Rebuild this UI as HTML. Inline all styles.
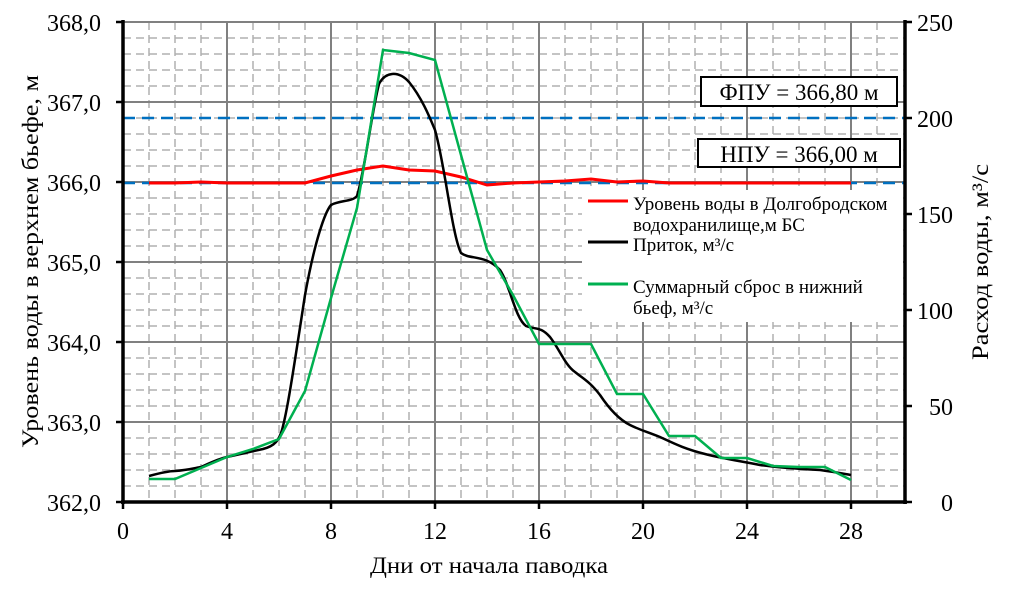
<!DOCTYPE html>
<html><head><meta charset="utf-8"><style>
body{margin:0;background:#fff}
svg text{font-family:"Liberation Serif",serif;fill:#000}
</style></head><body>
<svg width="1009" height="589" xmlns="http://www.w3.org/2000/svg">
<g stroke="#b0b0b0" stroke-width="1.5" stroke-dasharray="8,5">
<line x1="123" y1="38" x2="905" y2="38"/><line x1="123" y1="54" x2="905" y2="54"/><line x1="123" y1="70" x2="905" y2="70"/><line x1="123" y1="86" x2="905" y2="86"/>
<line x1="123" y1="118" x2="905" y2="118"/><line x1="123" y1="134" x2="905" y2="134"/><line x1="123" y1="150" x2="905" y2="150"/><line x1="123" y1="166" x2="905" y2="166"/>
<line x1="123" y1="198" x2="905" y2="198"/><line x1="123" y1="214" x2="905" y2="214"/><line x1="123" y1="230" x2="905" y2="230"/><line x1="123" y1="246" x2="905" y2="246"/>
<line x1="123" y1="278" x2="905" y2="278"/><line x1="123" y1="294" x2="905" y2="294"/><line x1="123" y1="310" x2="905" y2="310"/><line x1="123" y1="326" x2="905" y2="326"/>
<line x1="123" y1="358" x2="905" y2="358"/><line x1="123" y1="374" x2="905" y2="374"/><line x1="123" y1="390" x2="905" y2="390"/><line x1="123" y1="406" x2="905" y2="406"/>
<line x1="123" y1="438" x2="905" y2="438"/><line x1="123" y1="454" x2="905" y2="454"/><line x1="123" y1="470" x2="905" y2="470"/><line x1="123" y1="486" x2="905" y2="486"/>
<line x1="149" y1="22" x2="149" y2="502"/><line x1="175" y1="22" x2="175" y2="502"/><line x1="201" y1="22" x2="201" y2="502"/>
<line x1="253" y1="22" x2="253" y2="502"/><line x1="279" y1="22" x2="279" y2="502"/><line x1="305" y1="22" x2="305" y2="502"/>
<line x1="357" y1="22" x2="357" y2="502"/><line x1="383" y1="22" x2="383" y2="502"/><line x1="409" y1="22" x2="409" y2="502"/>
<line x1="461" y1="22" x2="461" y2="502"/><line x1="487" y1="22" x2="487" y2="502"/><line x1="513" y1="22" x2="513" y2="502"/>
<line x1="565" y1="22" x2="565" y2="502"/><line x1="591" y1="22" x2="591" y2="502"/><line x1="617" y1="22" x2="617" y2="502"/>
<line x1="669" y1="22" x2="669" y2="502"/><line x1="695" y1="22" x2="695" y2="502"/><line x1="721" y1="22" x2="721" y2="502"/>
<line x1="773" y1="22" x2="773" y2="502"/><line x1="799" y1="22" x2="799" y2="502"/><line x1="825" y1="22" x2="825" y2="502"/>
<line x1="877" y1="22" x2="877" y2="502"/>
</g>
<g stroke="#808080" stroke-width="2">
<line x1="123" y1="22" x2="905" y2="22"/><line x1="123" y1="102" x2="905" y2="102"/><line x1="123" y1="182" x2="905" y2="182"/><line x1="123" y1="262" x2="905" y2="262"/><line x1="123" y1="342" x2="905" y2="342"/><line x1="123" y1="422" x2="905" y2="422"/>
<line x1="227" y1="22" x2="227" y2="502"/><line x1="331" y1="22" x2="331" y2="502"/><line x1="435" y1="22" x2="435" y2="502"/><line x1="539" y1="22" x2="539" y2="502"/><line x1="643" y1="22" x2="643" y2="502"/><line x1="747" y1="22" x2="747" y2="502"/><line x1="851" y1="22" x2="851" y2="502"/>
</g>
<rect x="582" y="190" width="321" height="132" fill="#fff"/>
<g stroke="#0070c0" stroke-width="2.5" stroke-dasharray="12,7">
<line x1="123" y1="118" x2="905" y2="118"/><line x1="123" y1="183" x2="905" y2="183"/>
</g>
<polyline fill="none" stroke="#ff0000" stroke-width="3" points="149,183 175,183 201,182 227,183 253,183 279,183 305,183 331,176 357,170 383,166 409,170 435,171 461,177 487,185 513,183 539,182 565,181 591,179 617,182 643,181 669,183 695,183 721,183 747,183 773,183 799,183 825,183 851,183"/>
<path fill="none" stroke="#000" stroke-width="2.5" d="M149,476 C160,473 170,471 175,471 C188,470 195,468 201,467 C210,463 218,459 227,457 C240,454 250,452 263,449 C275,446 279,440 282,430 C287,412 292,380 305,295 C315,240 325,212 331,205 C340,200 352,202 357,196 C365,170 372,110 379,84 C385,72 398,70 409,82 C422,98 430,118 435,130 C445,165 452,235 461,253 C470,260 485,254 500,270 C510,285 515,318 526,326 C536,330 540,326 550,337 C560,350 565,365 575,372 C585,380 590,382 600,395 C610,410 620,420 630,425 C640,430 645,431 660,437 C675,444 685,449 705,454 C725,459 740,461 760,465 C780,468 800,469 820,470 C835,472 845,474 851,475"/>
<polyline fill="none" stroke="#00b050" stroke-width="2.5" points="149,479 175,479 201,468 227,457 253,449 279,439 305,391 331,298 357,208 383,50 409,53 435,60 461,155 487,250 513,295 539,344 565,344 591,344 617,394 643,394 669,436 695,436 721,458 747,458 773,466 799,467 825,467 851,480"/>
<g stroke="#000" stroke-width="3.5">
<line x1="123" y1="20" x2="123" y2="504"/><line x1="905" y1="20" x2="905" y2="504"/><line x1="121" y1="502" x2="907" y2="502"/>
</g>
<g stroke="#000" stroke-width="2.5">
<line x1="116" y1="22" x2="123" y2="22"/><line x1="116" y1="102" x2="123" y2="102"/><line x1="116" y1="182" x2="123" y2="182"/><line x1="116" y1="262" x2="123" y2="262"/><line x1="116" y1="342" x2="123" y2="342"/><line x1="116" y1="422" x2="123" y2="422"/><line x1="116" y1="502" x2="123" y2="502"/>
<line x1="905" y1="22" x2="912" y2="22"/><line x1="905" y1="118" x2="912" y2="118"/><line x1="905" y1="214" x2="912" y2="214"/><line x1="905" y1="310" x2="912" y2="310"/><line x1="905" y1="406" x2="912" y2="406"/><line x1="905" y1="502" x2="912" y2="502"/>
<line x1="123" y1="502" x2="123" y2="509"/><line x1="227" y1="502" x2="227" y2="509"/><line x1="331" y1="502" x2="331" y2="509"/><line x1="435" y1="502" x2="435" y2="509"/><line x1="539" y1="502" x2="539" y2="509"/><line x1="643" y1="502" x2="643" y2="509"/><line x1="747" y1="502" x2="747" y2="509"/><line x1="851" y1="502" x2="851" y2="509"/>
</g>
<g font-size="24" text-anchor="end">
<text x="101" y="31">368,0</text><text x="101" y="111">367,0</text><text x="101" y="191">366,0</text><text x="101" y="271">365,0</text><text x="101" y="351">364,0</text><text x="101" y="431">363,0</text><text x="101" y="511">362,0</text>
</g>
<g font-size="24" text-anchor="start">
<text x="917" y="31">250</text><text x="917" y="127">200</text><text x="917" y="223">150</text><text x="917" y="319">100</text><text x="929" y="415">50</text><text x="941" y="511">0</text>
</g>
<g font-size="24" text-anchor="middle">
<text x="123" y="539">0</text><text x="227" y="539">4</text><text x="331" y="539">8</text><text x="435" y="539">12</text><text x="539" y="539">16</text><text x="643" y="539">20</text><text x="747" y="539">24</text><text x="851" y="539">28</text>
</g>
<text x="370" y="573" font-size="23" textLength="238" lengthAdjust="spacingAndGlyphs">Дни от начала паводка</text>
<text transform="translate(38,448) rotate(-90)" font-size="23" textLength="373" lengthAdjust="spacingAndGlyphs">Уровень воды в верхнем бьефе, м</text>
<text transform="translate(988,360) rotate(-90)" font-size="23" textLength="196" lengthAdjust="spacingAndGlyphs">Расход воды, м³/с</text>
<rect x="701" y="77" width="196" height="29" fill="#fff" stroke="#000" stroke-width="2"/>
<text x="799" y="100" font-size="23" text-anchor="middle">ФПУ = 366,80 м</text>
<rect x="698" y="139" width="202" height="28" fill="#fff" stroke="#000" stroke-width="2"/>
<text x="799" y="162" font-size="23" text-anchor="middle">НПУ = 366,00 м</text>
<line x1="588" y1="201" x2="628" y2="201" stroke="#ff0000" stroke-width="3"/>
<line x1="588" y1="242" x2="628" y2="242" stroke="#000" stroke-width="3"/>
<line x1="588" y1="284" x2="628" y2="284" stroke="#00b050" stroke-width="3"/>
<g font-size="19">
<text x="633" y="210">Уровень воды в Долгобродском</text>
<text x="633" y="231">водохранилище,м БС</text>
<text x="633" y="251">Приток, м³/с</text>
<text x="633" y="293">Суммарный сброс в нижний</text>
<text x="633" y="314">бьеф, м³/с</text>
</g>
</svg>
</body></html>
